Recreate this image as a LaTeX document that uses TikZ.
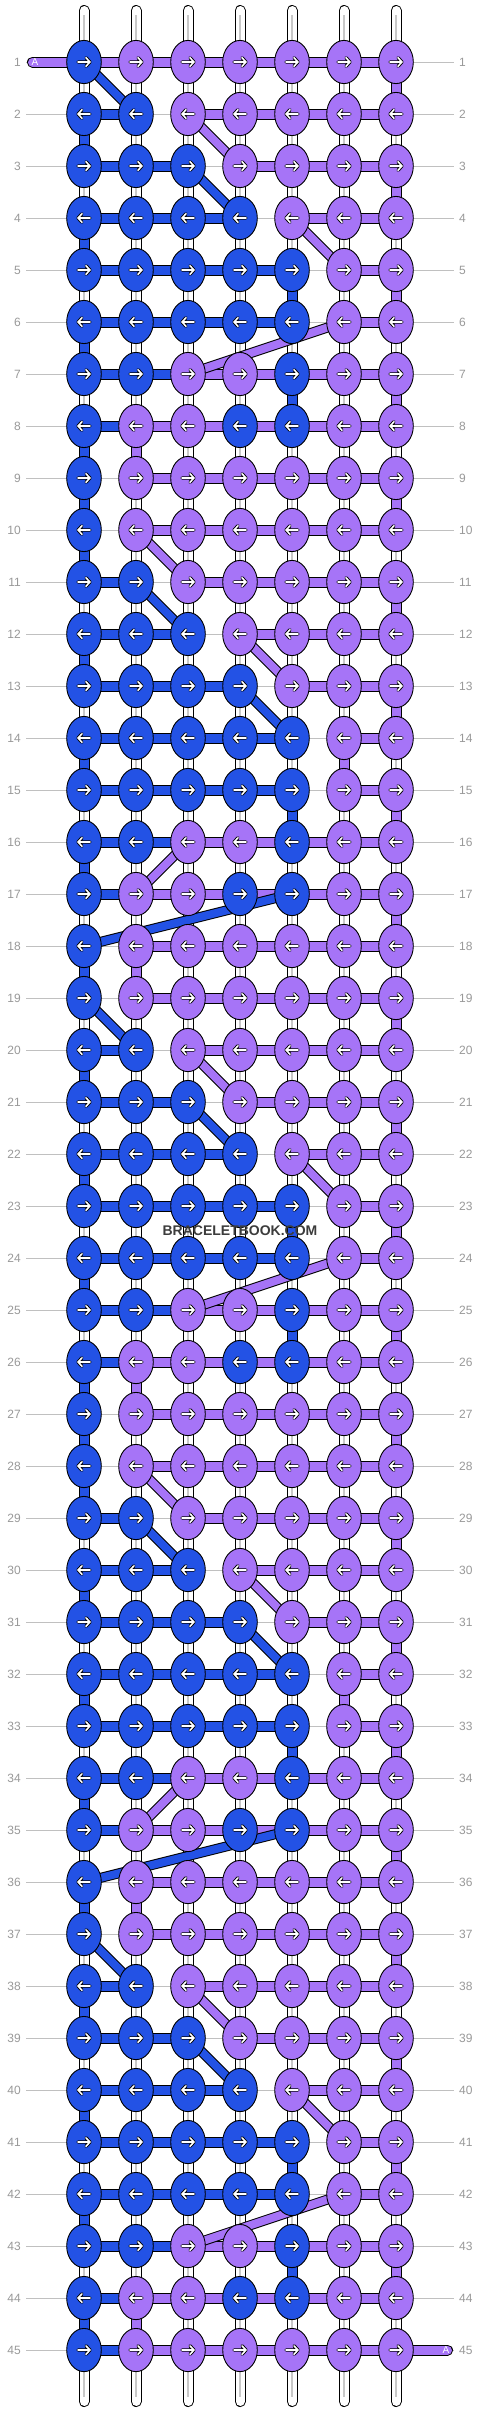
\documentclass[tikz,border=0pt]{standalone}
\usepackage{fontspec}
\setmainfont{Liberation Sans}
\usetikzlibrary{shapes.geometric}
\pgfdeclarelayer{bg}
\pgfsetlayers{bg,main}
\definecolor{bk}{RGB}{35,82,229}
\definecolor{pk}{RGB}{166,116,247}
\definecolor{labgray}{RGB}{153,153,153}
\definecolor{guidegray}{RGB}{192,192,192}
\definecolor{wmgray}{RGB}{60,60,60}
\definecolor{strgray}{RGB}{200,200,200}
\newcommand\defbrrow[4]{\expandafter\def\csname K#1\endcsname{#2}\expandafter\def\csname H#1\endcsname{#3}\expandafter\def\csname V#1\endcsname{#4}}
\defbrrow{1}{1/bk,2/pk,3/pk,4/pk,5/pk,6/pk,7/pk}{2/pk,3/pk,4/pk,5/pk,6/pk}{7/pk}
\defbrrow{2}{1/bk,2/bk,3/pk,4/pk,5/pk,6/pk,7/pk}{1/bk,3/pk,4/pk,5/pk,6/pk}{1/bk}
\defbrrow{3}{1/bk,2/bk,3/bk,4/pk,5/pk,6/pk,7/pk}{1/bk,2/bk,4/pk,5/pk,6/pk}{7/pk}
\defbrrow{4}{1/bk,2/bk,3/bk,4/bk,5/pk,6/pk,7/pk}{1/bk,2/bk,3/bk,5/pk,6/pk}{1/bk}
\defbrrow{5}{1/bk,2/bk,3/bk,4/bk,5/bk,6/pk,7/pk}{1/bk,2/bk,3/bk,4/bk,6/pk}{5/bk,7/pk}
\defbrrow{6}{1/bk,2/bk,3/bk,4/bk,5/bk,6/pk,7/pk}{1/bk,2/bk,3/bk,4/bk,6/pk}{1/bk}
\defbrrow{7}{1/bk,2/bk,3/pk,4/pk,5/bk,6/pk,7/pk}{1/bk,2/bk,3/pk,4/pk,5/pk,6/pk}{5/bk,7/pk}
\defbrrow{8}{1/bk,2/pk,3/pk,4/bk,5/bk,6/pk,7/pk}{1/bk,2/pk,3/pk,4/pk,5/pk,6/pk}{1/bk,2/pk}
\defbrrow{9}{1/bk,2/pk,3/pk,4/pk,5/pk,6/pk,7/pk}{2/pk,3/pk,4/pk,5/pk,6/pk}{1/bk,7/pk}
\defbrrow{10}{1/bk,2/pk,3/pk,4/pk,5/pk,6/pk,7/pk}{2/pk,3/pk,4/pk,5/pk,6/pk}{1/bk}
\defbrrow{11}{1/bk,2/bk,3/pk,4/pk,5/pk,6/pk,7/pk}{1/bk,3/pk,4/pk,5/pk,6/pk}{7/pk}
\defbrrow{12}{1/bk,2/bk,3/bk,4/pk,5/pk,6/pk,7/pk}{1/bk,2/bk,4/pk,5/pk,6/pk}{1/bk}
\defbrrow{13}{1/bk,2/bk,3/bk,4/bk,5/pk,6/pk,7/pk}{1/bk,2/bk,3/bk,5/pk,6/pk}{7/pk}
\defbrrow{14}{1/bk,2/bk,3/bk,4/bk,5/bk,6/pk,7/pk}{1/bk,2/bk,3/bk,4/bk,6/pk}{1/bk,6/pk}
\defbrrow{15}{1/bk,2/bk,3/bk,4/bk,5/bk,6/pk,7/pk}{1/bk,2/bk,3/bk,4/bk,6/pk}{5/bk,7/pk}
\defbrrow{16}{1/bk,2/bk,3/pk,4/pk,5/bk,6/pk,7/pk}{1/bk,2/bk,3/pk,4/pk,5/pk,6/pk}{1/bk}
\defbrrow{17}{1/bk,2/pk,3/pk,4/bk,5/bk,6/pk,7/pk}{1/bk,2/pk,3/pk,4/pk,5/pk,6/pk}{7/pk}
\defbrrow{18}{1/bk,2/pk,3/pk,4/pk,5/pk,6/pk,7/pk}{2/pk,3/pk,4/pk,5/pk,6/pk}{1/bk,2/pk}
\begin{document}
\begin{tikzpicture}[x=1pt,y=-1pt,
  knot/.style={ellipse, draw=black, line width=0.9pt, minimum width=34.6pt, minimum height=43.2pt, inner sep=0pt},
  lab/.style={text=labgray, font=\fontsize{12}{12}\selectfont, inner sep=0pt},
  guide/.style={guidegray, line width=1pt},
  basestr/.style={draw=black, line width=1pt, double=white, double distance=9pt, line cap=round},
  bar/.style={draw=black, line width=1pt, double=#1, double distance=9pt},
  dbar/.style={draw=black, line width=1pt, double=#1, double distance=8pt},
  arw/.pic={
    \draw[black, line width=3.4pt, line cap=round, line join=round] (-6,0)--(6,0) (2,-4.2)--(6,0)--(2,4.2);
    \draw[white, line width=1.6pt, line cap=round, line join=round] (-6,0)--(6,0) (2,-4.2)--(6,0)--(2,4.2);
  }]
\useasboundingbox (0,0) rectangle (480,2412);
% knots and labels
\foreach \r in {1,...,45}{
  \pgfmathtruncatemacro\pp{mod(\r-1,18)+1}
  \pgfmathsetmacro\yy{62+52*(\r-1)}
  \expandafter\let\expandafter\klist\csname K\pp\endcsname
  \foreach \c/\cl in \klist {
    \pgfmathsetmacro\xx{84+52*(\c-1)}
    \node[knot, fill=\cl] (k-\r-\c) at (\xx,\yy) {};
    \ifodd\r \pic at (k-\r-\c) {arw}; \else \pic[xscale=-1] at (k-\r-\c) {arw}; \fi
  }
  \node[lab, anchor=east] (ll-\r) at (21,\yy) {\r};
  \node[lab, anchor=west] (lr-\r) at (459,\yy) {\r};
  \coordinate (gl-\r) at (26,\yy);
  \coordinate (gr-\r) at (454,\yy);
}
\foreach \c in {1,...,7}{
  \pgfmathsetmacro\xx{84+52*(\c-1)}
  \coordinate (st-\c) at (\xx,10.5);
  \coordinate (sb-\c) at (\xx,2401.5);
  \coordinate (gt-\c) at (\xx,15);
  \coordinate (gb-\c) at (\xx,2397);
}
\coordinate (as) at (32.5,62);
\coordinate (ae) at (447.5,2350);
\begin{pgfonlayer}{bg}
  \fill[white] (0,0) rectangle (480,2412);
  \foreach \r in {1,...,45} \draw[guide] (gl-\r) -- (gr-\r);
  \foreach \c in {1,...,7}{
    \draw[basestr] (st-\c) -- (sb-\c);
    \draw[strgray, line width=1.5pt] (gt-\c) -- (gb-\c);
  }
  % horizontal bars
  \foreach \r in {1,...,45}{
    \pgfmathtruncatemacro\pp{mod(\r-1,18)+1}
    \expandafter\let\expandafter\hlist\csname H\pp\endcsname
    \foreach \c/\cl in \hlist {
      \pgfmathtruncatemacro\cn{\c+1}
      \draw[bar=\cl] (k-\r-\c.center) -- (k-\r-\cn.center);
    }
  }
  \draw[bar=pk] (k-1-1.center) -- (k-1-2.center);
  \draw[bar=bk] (k-45-1.center) -- (k-45-2.center);
  % vertical bars
  \foreach \r in {1,...,44}{
    \pgfmathtruncatemacro\pp{mod(\r-1,18)+1}
    \pgfmathtruncatemacro\rn{\r+1}
    \expandafter\let\expandafter\vlist\csname V\pp\endcsname
    \foreach \c/\cl in \vlist {
      \draw[bar=\cl] (k-\r-\c.center) -- (k-\rn-\c.center);
    }
  }
  % diagonals
  \foreach \pp/\ca/\cb/\cl in {1/1/2/bk,2/3/4/pk,3/3/4/bk,4/5/6/pk,6/6/3/pk,10/2/3/pk,11/2/3/bk,12/4/5/pk,13/4/5/bk,16/3/2/pk,17/5/1/bk}{
    \foreach \kk in {0,1,2}{
      \pgfmathtruncatemacro\rr{\pp+18*\kk}
      \pgfmathtruncatemacro\rn{\rr+1}
      \ifnum\rr<45 \draw[dbar=\cl] (k-\rr-\ca.center) -- (k-\rn-\cb.center); \fi
    }
  }
  % A thread ends
  \draw[bar=pk, line cap=round] (as) -- (k-1-1.center);
  \draw[bar=pk, line cap=round] (k-45-7.center) -- (ae);
\end{pgfonlayer}
\node[text=white, font=\fontsize{10}{10}\selectfont, inner sep=0pt] (atop) at (35,62) {A};
\node[text=white, font=\fontsize{10}{10}\selectfont, inner sep=0pt] (abot) at (446,2350) {A};
\node[text=wmgray, font=\bfseries\fontsize{14}{14}\selectfont, inner sep=0pt] (wm) at (240,1231) {BRACELETBOOK.COM};
\end{tikzpicture}
\end{document}
